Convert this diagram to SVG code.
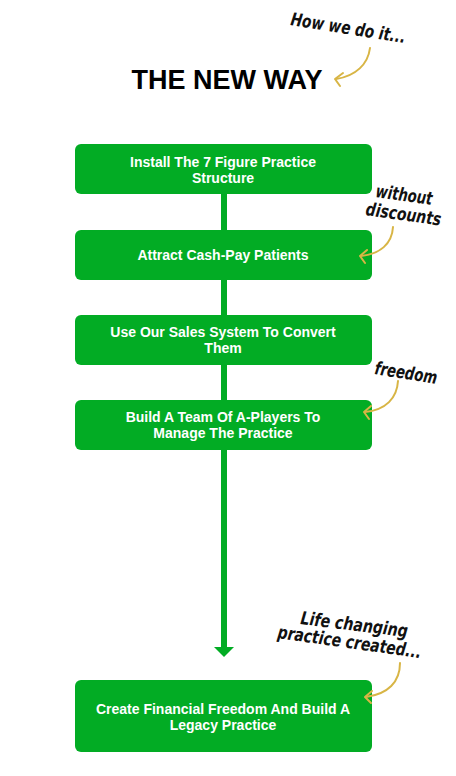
<svg xmlns="http://www.w3.org/2000/svg" width="456" height="776" viewBox="0 0 456 776">
<style>
.box{fill:#02ac24}
.bt{font-family:"Liberation Sans",Arial,sans-serif;font-weight:bold;font-size:14px;fill:#fff;text-anchor:middle}
.hw{font-family:"DejaVu Sans",sans-serif;font-style:italic;font-weight:bold;font-size:18px;fill:#111}
.ga{fill:none;stroke:#d8b545;stroke-width:2;stroke-linecap:round;stroke-linejoin:round}
</style>
<rect width="456" height="776" fill="#fff"/>
<text x="227" y="89" font-family="Liberation Sans,Arial,sans-serif" font-weight="bold" font-size="27" text-anchor="middle" fill="#000">THE NEW WAY</text>
<g id="connectors">
<rect x="221" y="190" width="6" height="460" fill="#02ac24"/>
<polygon points="214,647 234,647 224,657" fill="#02ac24"/>
</g>
<g id="n1"><rect class="box" x="75" y="144" width="297" height="50" rx="6"/><text class="bt" x="223" y="167">Install The 7 Figure Practice</text><text class="bt" x="223" y="183">Structure</text></g>
<g id="n2"><rect class="box" x="75" y="230" width="297" height="50" rx="6"/><text class="bt" x="223" y="260">Attract Cash-Pay Patients</text></g>
<g id="n3"><rect class="box" x="75" y="315" width="297" height="50" rx="6"/><text class="bt" x="223" y="337">Use Our Sales System To Convert</text><text class="bt" x="223" y="353">Them</text></g>
<g id="n4"><rect class="box" x="75" y="400" width="297" height="50" rx="6"/><text class="bt" x="223" y="422">Build A Team Of A-Players To</text><text class="bt" x="223" y="438">Manage The Practice</text></g>
<g id="n5"><rect class="box" x="75" y="680" width="297" height="72" rx="6"/><text class="bt" x="223" y="714">Create Financial Freedom And Build A</text><text class="bt" x="223" y="730">Legacy Practice</text></g>
<g id="notes">
<text class="hw" transform="translate(290,25) rotate(9)" textLength="116" lengthAdjust="spacingAndGlyphs">How we do it...</text>
<path class="ga" d="M370,48 C368,64 356,76 336,79"/>
<path class="ga" d="M343,73 L335,79 L340,86"/>
<text class="hw" transform="translate(375,197) rotate(8)" textLength="57" lengthAdjust="spacingAndGlyphs">without</text>
<text class="hw" transform="translate(365,215) rotate(8)" textLength="76" lengthAdjust="spacingAndGlyphs">discounts</text>
<path class="ga" d="M393,227 C392,244 380,254 361,256"/>
<path class="ga" d="M367,250 L360,256 L365,263"/>
<text class="hw" transform="translate(374,374) rotate(9)" textLength="63" lengthAdjust="spacingAndGlyphs">freedom</text>
<path class="ga" d="M398,381 C397,398 386,410 365,412"/>
<path class="ga" d="M371,406 L364,412 L369,419"/>
<text class="hw" transform="translate(300,624) rotate(7)" textLength="108" lengthAdjust="spacingAndGlyphs">Life changing</text>
<text class="hw" transform="translate(277,638) rotate(8)" textLength="145" lengthAdjust="spacingAndGlyphs">practice created...</text>
<path class="ga" d="M400,663 C400,682 388,694 366,697"/>
<path class="ga" d="M372,691 L365,697 L371,703"/>
</g>
</svg>
